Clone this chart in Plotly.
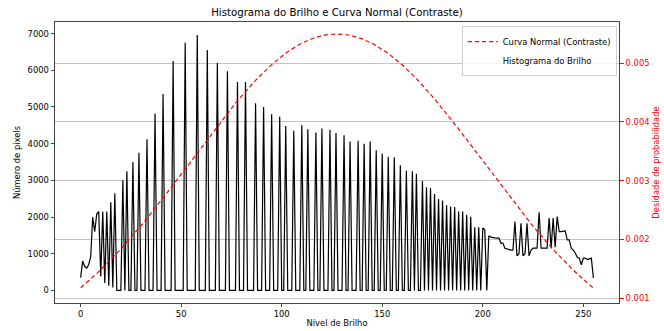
import numpy as np
import plotly.graph_objects as go

# ---------------- data ----------------
# counts per brightness level 0..255
levels = list(range(256))
counts = [0] * 256
low_part = {0: 350, 1: 800, 2: 650, 3: 610, 4: 700, 5: 920, 6: 2000, 7: 1600,
            8: 2080, 9: 2150, 10: 380, 11: 2150, 12: 200, 13: 2150, 14: 130,
            15: 2400, 16: 80, 17: 2650}
spikes = {21: 3000, 23: 3250, 26: 3500, 29: 3750, 33: 4120, 37: 4820, 41: 5350,
          46: 6250, 52: 6750, 58: 6960, 63: 6550, 68: 6200, 73: 5970, 78: 5680,
          82: 5680, 87: 5100, 91: 5000, 95: 4800, 99: 4730, 102: 4480, 106: 4350,
          110: 4500, 113: 4390, 117: 4300, 120: 4410, 124: 4380, 127: 4290,
          131: 4230, 134: 4060, 138: 4080, 141: 4000, 144: 4060, 147: 3820,
          150: 3730, 153: 3640, 156: 3630, 159: 3410, 162: 3260, 165: 3250,
          167: 3180, 170: 2990, 172: 2810, 174: 2790, 176: 2630, 178: 2490,
          180: 2450, 182: 2320, 184: 2290, 186: 2270, 188: 2150, 190: 2150,
          192: 2060, 194: 2010, 196: 1720, 198: 1720, 200: 1700, 201: 1650}
high_part = {203: 1490, 204: 1450, 205: 1430, 206: 1430, 207: 1425, 208: 1425,
             209: 1290, 210: 1290, 211: 1150, 212: 1130, 213: 1100, 214: 1100,
             215: 1100, 216: 1880, 217: 940, 218: 1000, 219: 1830, 220: 940,
             221: 1000, 222: 1830, 223: 940, 224: 1100, 225: 1150, 226: 1150,
             227: 1150, 228: 2130, 229: 1150, 230: 1150, 231: 1150, 232: 1150,
             233: 1970, 234: 1150, 235: 1970, 236: 1180, 237: 2010, 238: 1600,
             239: 1600, 240: 1620, 241: 1620, 242: 1380, 243: 1380, 244: 1150,
             245: 1100, 246: 1020, 247: 900, 248: 880, 249: 700, 250: 880,
             251: 880, 252: 840, 253: 870, 254: 880, 255: 340}
for d in (low_part, spikes, high_part):
    for k, v in d.items():
        counts[k] = v

# normal curve parameters (mean / std of the stretched image)
mu = 127.4
sigma = 72.6
x_norm = np.linspace(0, 255, 256)
pdf = np.exp(-0.5 * ((x_norm - mu) / sigma) ** 2) / (sigma * np.sqrt(2 * np.pi))

title = "Histograma do Brilho e Curva Normal (Contraste)"
x_label = "Nível de Brilho"
y_label = "Número de pixels"
y2_label = "Desidade de probabilidade"
name_norm = "Curva Normal (Contraste)"
name_hist = "Histograma do Brilho"

# ---------------- figure ----------------
FONT = "DejaVu Sans"
FS = 8.4
fig = go.Figure()

fig.add_trace(go.Scatter(x=levels, y=counts, mode="lines",
                         line=dict(color="black", width=1.2),
                         showlegend=False, yaxis="y"))
fig.add_trace(go.Scatter(x=x_norm, y=pdf, mode="lines", name=name_norm,
                         line=dict(color="red", width=1.2, dash="4.3px,2.8px"),
                         yaxis="y2"))
fig.add_trace(go.Scatter(x=[None], y=[None], mode="lines", name=name_hist,
                         line=dict(color="rgba(0,0,0,0)", width=1.2),
                         yaxis="y2"))

fig.update_layout(
    width=664, height=331,
    margin=dict(l=55, r=45, t=22, b=28, autoexpand=False),
    paper_bgcolor="white", plot_bgcolor="white",
    font=dict(family=FONT, size=FS, color="black"),
    title=dict(text=title, x=0.5, xref="paper", y=0.963, yanchor="middle",
               font=dict(size=10.2, family=FONT)),
    xaxis=dict(range=[-12.75, 267.75], tickvals=[0, 50, 100, 150, 200, 250],
               showgrid=False, zeroline=False, showline=True, mirror=True,
               linecolor="#444", linewidth=0.8, ticks="outside", ticklen=3.5,
               tickcolor="#444", tickfont=dict(size=FS), automargin=False,
               title=dict(text=x_label, font=dict(size=FS), standoff=1)),
    yaxis=dict(range=[-343, 7315], tickvals=list(range(0, 7001, 1000)),
               showgrid=False, zeroline=False, showline=True,
               linecolor="#444", linewidth=0.8, ticks="outside", ticklen=3.5,
               tickcolor="#444", tickfont=dict(size=FS), automargin=False,
               title=dict(text=y_label, font=dict(size=FS), standoff=5)),
    yaxis2=dict(range=[0.00092, 0.0057], overlaying="y", side="right",
                tickvals=[0.001, 0.002, 0.003, 0.004, 0.005],
                tickformat=".3f", showgrid=True, gridcolor="#c4c4c4",
                gridwidth=0.8, zeroline=False, showline=True,
                linecolor="#444", linewidth=0.8, ticks="outside", ticklen=4,
                tickcolor="red", tickfont=dict(size=FS, color="red"),
                automargin=False,
                title=dict(text=y2_label, font=dict(size=FS, color="red"),
                           standoff=4)),
    legend=dict(x=0.996, y=0.985, xanchor="right", yanchor="top",
                bgcolor="rgba(255,255,255,0.85)", bordercolor="#d0d0d0",
                borderwidth=1, font=dict(size=FS), itemwidth=30,
                tracegroupgap=0),
)

fig.write_html("out.html")
